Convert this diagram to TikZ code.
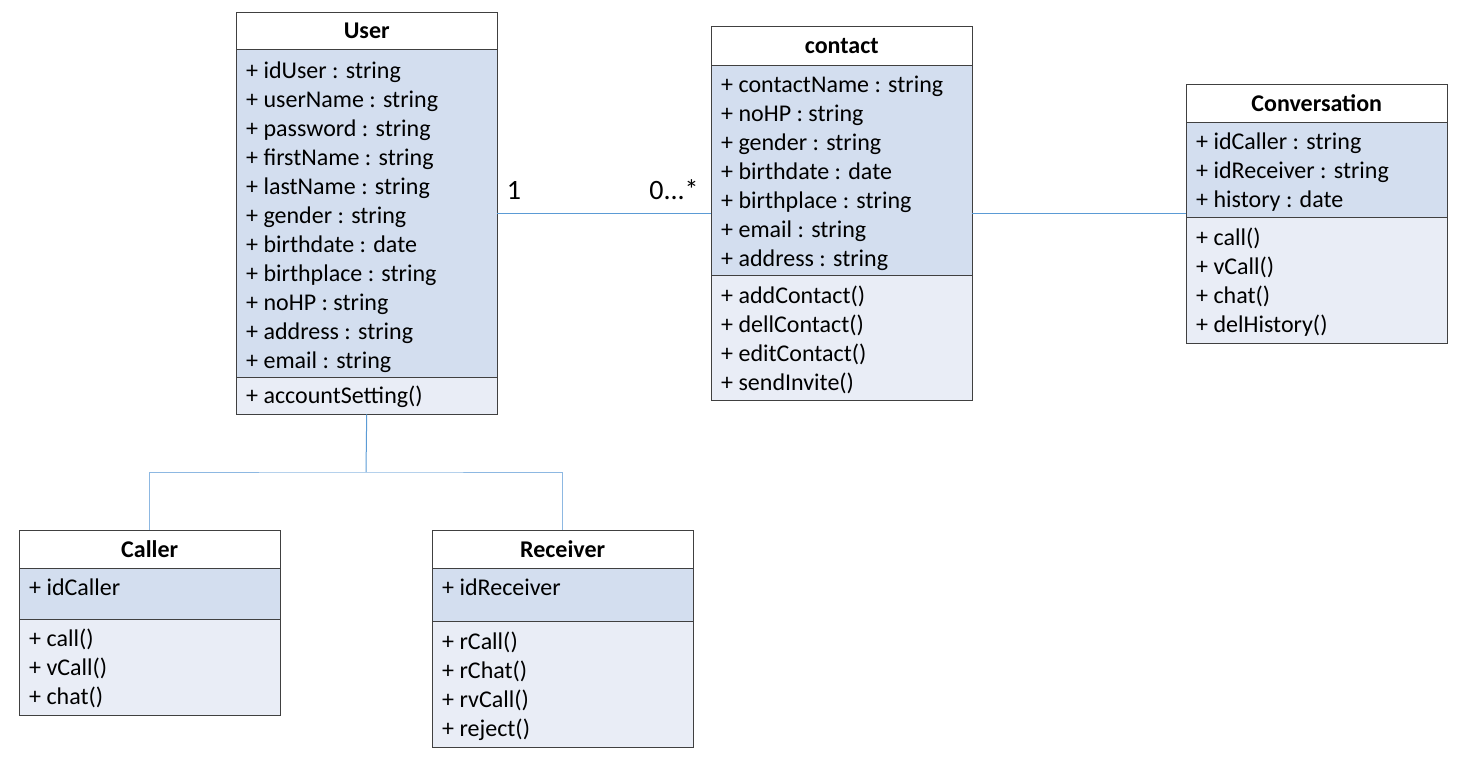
\documentclass[tikz,border=0pt]{standalone}
\usepackage{fontspec}
\setmainfont{Carlito}
\usepackage{tikz}

\definecolor{attrfill}{HTML}{D3DEEF}
\definecolor{methfill}{HTML}{E9EDF6}
\definecolor{boxline}{HTML}{404040}
\definecolor{linkblue}{HTML}{5B9BD5}
\definecolor{genblue}{HTML}{8DB8E2}

\tikzset{
  part/.style={draw=boxline, anchor=north west, minimum width=261pt, inner sep=0pt},
  head/.style={part, fill=white, font=\fontsize{24}{29}\selectfont\bfseries},
  attrs/.style={part, fill=attrfill},
  meths/.style={part, fill=methfill},
  members/.style={anchor=base west, align=left, inner sep=0pt, font=\fontsize{24}{29}\selectfont},
  mult/.style={anchor=base, inner sep=0pt, font=\fontsize{28}{30}\selectfont},
  link/.style={draw=linkblue, line width=1pt},
  gen/.style={draw=genblue, line width=1pt}
}

\begin{document}
\begin{tikzpicture}[x=1pt, y=-1pt]
\useasboundingbox (0,0) rectangle (1464,760);

% User
\node [head, minimum height=37pt] (user) at (236,12) {User};
\node [attrs, minimum height=328pt] (userA) at (236,49) {};
\node [meths, minimum height=37pt] (userM) at (236,377) {};
% members are placed by the baseline of their last line
\node [members] at (246,368) {+ idUser : string\\+ userName : string\\+ password : string\\+ firstName : string\\+ lastName : string\\+ gender : string\\+ birthdate : date\\+ birthplace : string\\+ noHP : string\\+ address : string\\+ email : string};
\node [members] at (246,403) {+ accountSetting()};

% contact
\node [head, minimum height=39pt] (contact) at (711,26) {contact};
\node [attrs, minimum height=210pt] (contactA) at (711,65) {};
\node [meths, minimum height=125pt] (contactM) at (711,275) {};
\node [members] at (721,266) {+ contactName : string\\+ noHP : string\\+ gender : string\\+ birthdate : date\\+ birthplace : string\\+ email : string\\+ address : string};
\node [members] at (721,390) {+ addContact()\\+ dellContact()\\+ editContact()\\+ sendInvite()};

% Conversation
\node [head, minimum height=38pt] (conv) at (1186,84) {Conversation};
\node [attrs, minimum height=95pt] (convA) at (1186,122) {};
\node [meths, minimum height=126pt] (convM) at (1186,217) {};
\node [members] at (1196,207) {+ idCaller : string\\+ idReceiver : string\\+ history : date};
\node [members] at (1196,332) {+ call()\\+ vCall()\\+ chat()\\+ delHistory()};

% Caller
\node [head, minimum height=38pt] (caller) at (19,530) {Caller};
\node [attrs, minimum height=51pt] (callerA) at (19,568) {};
\node [meths, minimum height=96pt] (callerM) at (19,619) {};
\node [members] at (29,595) {+ idCaller};
\node [members] at (29,704) {+ call()\\+ vCall()\\+ chat()};

% Receiver
\node [head, minimum height=38pt] (receiver) at (432,530) {Receiver};
\node [attrs, minimum height=53pt] (receiverA) at (432,568) {};
\node [meths, minimum height=126pt] (receiverM) at (432,621) {};
\node [members] at (442,595) {+ idReceiver};
\node [members] at (442,736) {+ rCall()\\+ rChat()\\+ rvCall()\\+ reject()};

% associations
\draw [link] (userA.east) -- (userA.east -| contactA.west);
\draw [link] (userA.east -| contactA.east) -- (userA.east -| convA.west);
\node [mult] (one) at (514,199) {1};
\node [mult] (many) at (674,199) {0...*};

% generalisation
\coordinate (split) at (366,472);
\draw [link] (userM.south) -- (split);
\draw [gen] (caller.north) |- (split) -| (receiver.north);
\end{tikzpicture}
\end{document}
